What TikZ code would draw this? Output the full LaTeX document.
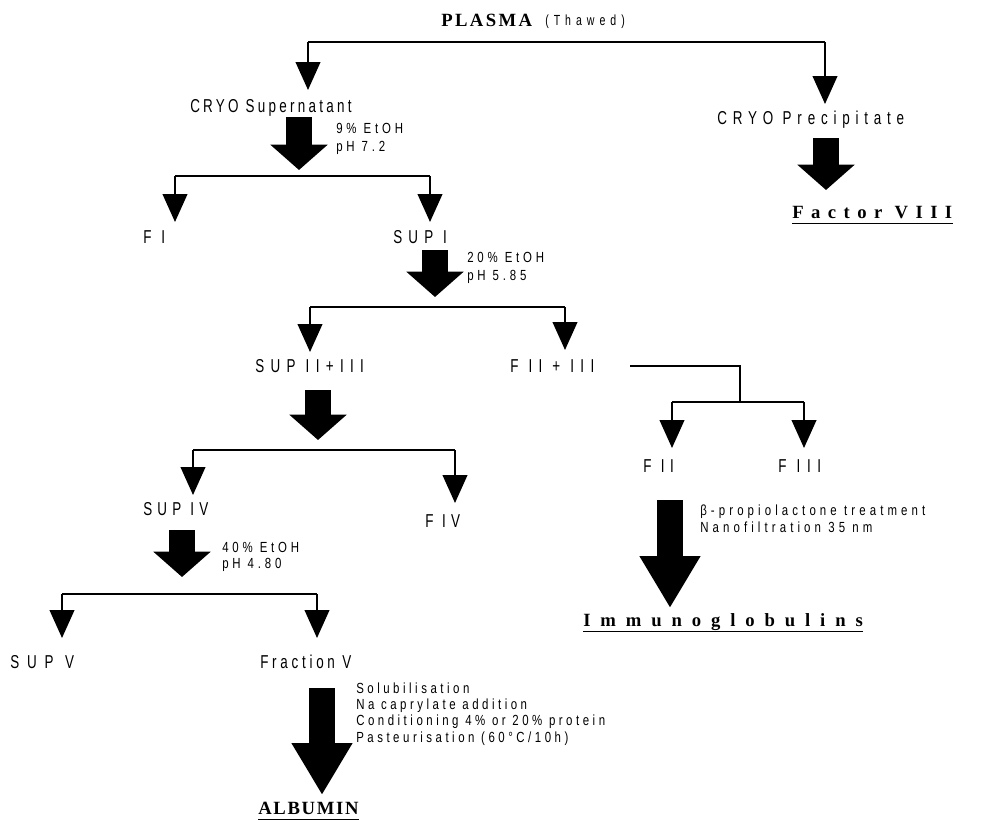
\documentclass[tikz,border=0pt]{standalone}
\usepackage{fontspec}
\usetikzlibrary{arrows.meta}
\newfontfamily\lsans[FakeStretch=0.72]{Liberation Sans}
\newfontfamily\nsans[FakeStretch=0.78]{Liberation Sans}
\newfontfamily\bserif{Liberation Serif}
\tikzset{
  lbl/.style={anchor=base west, inner sep=0pt, font=\lsans\fontsize{14}{16}\selectfont\addfontfeature{LetterSpace=#1}},
  lbl/.default=18,
  note/.style={anchor=base west, inner sep=0pt, font=\nsans\fontsize{11}{13}\selectfont\addfontfeature{LetterSpace=#1}},
  note/.default=24,
  title/.style={anchor=base west, inner sep=0pt, font=\bserif\bfseries\fontsize{14}{16}\selectfont\addfontfeature{LetterSpace=#1}},
  conn/.style={line width=1.5pt},
  thinarr/.style={line width=1.5pt, -{Triangle[width=18.5pt,length=21pt]}},
  bigarr/.style={line width=19.5pt, -{Triangle[width=42pt,length=19pt]}},
  longarr/.style={line width=19.5pt, -{Triangle[width=43pt,length=39pt]}},
  uline/.style={line width=1.2pt}
}
\begin{document}
\begin{tikzpicture}[x=0.75pt,y=-0.75pt]
\useasboundingbox (0,0) rectangle (981,819);
% texts
\node[title=13] (plasma) at (441,26) {PLASMA};
\node[anchor=base west, inner sep=0pt, font=\lsans\fontsize{11}{13}\selectfont\addfontfeature{LetterSpace=34}] (thawed) at (545,25) {(Thawed)};
\node[lbl=17.5] (cryos) at (190,112) {CRYO Supernatant};
\node[note=26] (n1a) at (336,133) {9\% EtOH};
\node[note=26] (n1b) at (336,151) {pH 7.2};
\node[lbl=31] (cryop) at (717,124) {CRYO Precipitate};
\node[title=40] (f8) at (792,218) {Factor VIII};
\node[lbl=33] (fi) at (143,243) {F I};
\node[lbl=33] (supi) at (393,243) {SUP I};
\node[note=26] (n2a) at (467,262) {20\% EtOH};
\node[note=26] (n2b) at (467,280) {pH 5.85};
\node[lbl=34] (sup23) at (255,372) {SUP II+III};
\node[lbl=34] (f23) at (510,372) {F II + III};
\node[lbl=30] (fii) at (643,472) {F II};
\node[lbl=35] (fiii) at (778,472) {F III};
\node[note=28] (n5a) at (700,515) {β-propiolactone treatment};
\node[note=28] (n5b) at (700,532) {Nanofiltration 35 nm};
\node[title=53] (igg) at (583,626) {Immunoglobulins};
\node[lbl=28] (supiv) at (143,515) {SUP IV};
\node[lbl=27] (fiv) at (425,527) {F IV};
\node[note=26] (n4a) at (222,552) {40\% EtOH};
\node[note=26] (n4b) at (222,568) {pH 4.80};
\node[lbl=42] (supv) at (10,668) {SUP V};
\node[lbl=20] (fracv) at (260,668) {Fraction V};
\node[note] (n6a) at (356,693) {Solubilisation};
\node[note] (n6b) at (356,709) {Na caprylate addition};
\node[note] (n6c) at (356,725) {Conditioning 4\% or 20\% protein};
\node[note] (n6d) at (356,742) {Pasteurisation (60°C/10h)};
\node[title=9] (alb) at (258,814) {ALBUMIN};
% underlines
\draw[uline] ([yshift=-4pt]f8.base west) -- ([yshift=-4pt]f8.base east);
\draw[uline] ([yshift=-4pt]igg.base west) -- ([yshift=-4pt]igg.base east);
\draw[uline] ([yshift=-4pt]alb.base west) -- ([yshift=-4pt]alb.base east);
% bracket 1
\coordinate (b1l) at (308,42); \coordinate (b1r) at (825,42);
\coordinate (t1l) at (308,90); \coordinate (t1r) at (825,104);
\draw[conn] (b1l) -- (b1r);
\draw[thinarr] (b1l) -- (t1l);
\draw[thinarr] (b1r) -- (t1r);
% big arrows
\coordinate (a1s) at (299,117); \coordinate (a1e) at (299,170);
\draw[bigarr] (a1s) -- (a1e);
\coordinate (a7s) at (826,138); \coordinate (a7e) at (826,190);
\draw[bigarr] (a7s) -- (a7e);
% bracket 2
\coordinate (b2l) at (175,176); \coordinate (b2r) at (430,176);
\coordinate (t2l) at (175,222); \coordinate (t2r) at (430,222);
\draw[conn] (b2l) -- (b2r);
\draw[thinarr] (b2l) -- (t2l);
\draw[thinarr] (b2r) -- (t2r);
\coordinate (a2s) at (435,250); \coordinate (a2e) at (435,297);
\draw[bigarr] (a2s) -- (a2e);
% bracket 3
\coordinate (b3l) at (310,307); \coordinate (b3r) at (565,307);
\coordinate (t3l) at (310,352); \coordinate (t3r) at (565,350);
\draw[conn] (b3l) -- (b3r);
\draw[thinarr] (b3l) -- (t3l);
\draw[thinarr] (b3r) -- (t3r);
% F II + III split
\coordinate (s1) at (630,366); \coordinate (s2) at (740,366); \coordinate (s3) at (740,402);
\coordinate (b6l) at (672,402); \coordinate (b6r) at (804,402);
\coordinate (t6l) at (672,448); \coordinate (t6r) at (804,448);
\draw[conn] (s1) -- (s2) -- (s3);
\draw[conn] (b6l) -- (b6r);
\draw[thinarr] (b6l) -- (t6l);
\draw[thinarr] (b6r) -- (t6r);
\coordinate (a5s) at (670,500); \coordinate (a5e) at (670,608);
\draw[longarr] (a5s) -- (a5e);
% SUP II+III
\coordinate (a3s) at (318,390); \coordinate (a3e) at (318,440);
\draw[bigarr] (a3s) -- (a3e);
\coordinate (b4l) at (193,450); \coordinate (b4r) at (455,450);
\coordinate (t4l) at (193,495); \coordinate (t4r) at (455,503);
\draw[conn] (b4l) -- (b4r);
\draw[thinarr] (b4l) -- (t4l);
\draw[thinarr] (b4r) -- (t4r);
\coordinate (a4s) at (182,530); \coordinate (a4e) at (182,577);
\draw[bigarr] (a4s) -- (a4e);
\coordinate (b5l) at (62,594); \coordinate (b5r) at (317,594);
\coordinate (t5l) at (62,638); \coordinate (t5r) at (317,638);
\draw[conn] (b5l) -- (b5r);
\draw[thinarr] (b5l) -- (t5l);
\draw[thinarr] (b5r) -- (t5r);
\coordinate (a6s) at (322,688); \coordinate (a6e) at (322,795);
\draw[longarr] (a6s) -- (a6e);
\end{tikzpicture}
\end{document}
